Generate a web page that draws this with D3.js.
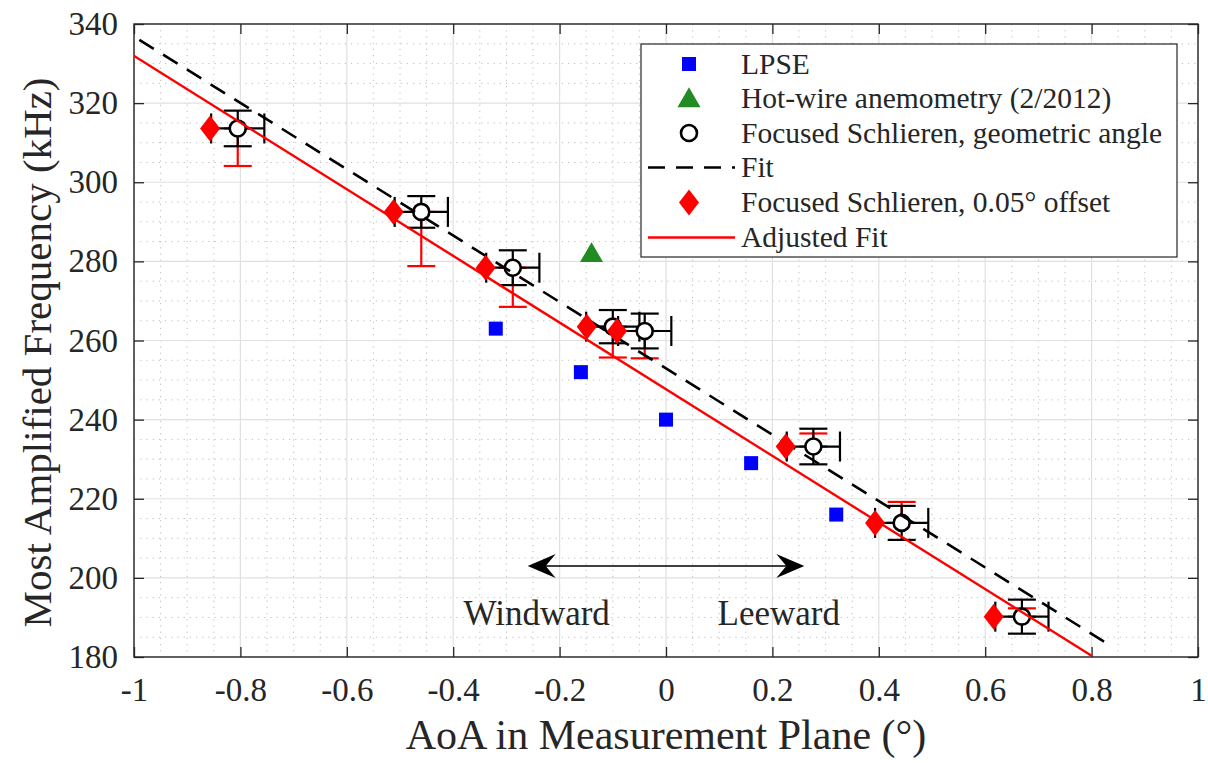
<!DOCTYPE html>
<html>
<head>
<meta charset="utf-8">
<script src="https://cdn.jsdelivr.net/npm/d3@7"></script>
<style>
  html, body { margin: 0; padding: 0; background: #ffffff; }
  svg { display: block; }
  text { font-family: "Liberation Serif", "DejaVu Serif", serif; fill: #262626; }
</style>
</head>
<body>
<svg id="chart" width="1208" height="763"></svg>
<script>
// ---- data ----
const xTickValues = [-1, -0.8, -0.6, -0.4, -0.2, 0, 0.2, 0.4, 0.6, 0.8, 1];
const xTickLabels = ["-1", "-0.8", "-0.6", "-0.4", "-0.2", "0", "0.2", "0.4", "0.6", "0.8", "1"];
const yTickValues = [180, 200, 220, 240, 260, 280, 300, 320, 340];
const yTickLabels = ["180", "200", "220", "240", "260", "280", "300", "320", "340"];

// LPSE predictions
const lpseAoA  = [-0.32, -0.16, 0, 0.16, 0.32];
const lpseFreq = [263, 252, 240, 229, 216];

// Hot-wire anemometry (2/2012)
const hotwireAoA  = [-0.14];
const hotwireFreq = [282];

// Focused schlieren, geometric angle
const schlierenAoA     = [-0.805, -0.46, -0.288, -0.10, -0.04, 0.277, 0.443, 0.669];
const schlierenFreq    = [313.6, 292.5, 278.4, 263.5, 262.4, 233.2, 213.9, 190.2];
const schlierenFreqErr = [4.5, 4.0, 4.4, 4.2, 4.4, 4.5, 4.3, 4.3];
const schlierenAoAErr  = [0.05, 0.05, 0.05, 0.05, 0.05, 0.05, 0.05, 0.05];

// Focused schlieren, 0.05 deg offset
const offsetAoA     = [-0.857, -0.512, -0.339, -0.149, -0.092, 0.225, 0.393, 0.616];
const offsetFreq    = [313.6, 292.5, 278.4, 263.5, 262.4, 233.2, 213.9, 190.2];
const offsetFreqLow  = [304.1, 278.8, 268.5, 255.7, 255.5, 233.2, 213.9, 190.2];
const offsetFreqHigh = [313.6, 292.5, 278.4, 263.5, 262.4, 236.5, 219.2, 192.3];

// Linear fits (end points)
const fitAoA  = [-0.99, 0.84];
const fitFreq = [336.0, 182.5];
const adjFitAoA  = [-1.04, 0.80];
const adjFitFreq = [335.3, 180.3];

// Windward / leeward annotation
const arrowAoA = [-0.26, 0.26];
const arrowFreq = 203;
const sideLabels = ["Windward", "Leeward"];
const sideLabelAoA = [-0.243, 0.212];
const sideLabelFreq = 188.2;

const legendLabels = [
  "LPSE",
  "Hot-wire anemometry (2/2012)",
  "Focused Schlieren, geometric angle",
  "Fit",
  "Focused Schlieren, 0.05\u00b0 offset",
  "Adjusted Fit"
];

// ---- layout ----
const svg = d3.select("#chart");
const plot = { left: 134, right: 1198, top: 24, bottom: 657 };
const x = d3.scaleLinear().domain([-1, 1]).range([plot.left, plot.right]);
const y = d3.scaleLinear().domain([180, 340]).range([plot.bottom, plot.top]);

const INK = "#262626";
const BLUE = "#0000ff", GREEN = "#228b22", RED = "#ff0000";

svg.append("defs").append("clipPath").attr("id", "plotClip")
  .append("rect")
  .attr("x", plot.left).attr("y", plot.top)
  .attr("width", plot.right - plot.left).attr("height", plot.bottom - plot.top);

// ---- grid ----
const grid = svg.append("g");
const xMinor = d3.range(-1, 1.0001, 0.05).map(v => +v.toFixed(2)).filter(v => !xTickValues.some(t => Math.abs(t - v) < 1e-6));
const yMinor = d3.range(180, 340.001, 5).filter(v => !yTickValues.includes(v));

grid.selectAll("line.xminor").data(xMinor).join("line")
  .attr("x1", d => x(d)).attr("x2", d => x(d))
  .attr("y1", plot.top).attr("y2", plot.bottom)
  .attr("stroke", "#bdbdbd").attr("stroke-width", 1).attr("stroke-dasharray", "1.2,5");
grid.selectAll("line.yminor").data(yMinor).join("line")
  .attr("y1", d => y(d)).attr("y2", d => y(d))
  .attr("x1", plot.left).attr("x2", plot.right)
  .attr("stroke", "#bdbdbd").attr("stroke-width", 1).attr("stroke-dasharray", "1.2,5");
grid.selectAll("line.xmajor").data(xTickValues).join("line")
  .attr("x1", d => x(d)).attr("x2", d => x(d))
  .attr("y1", plot.top).attr("y2", plot.bottom)
  .attr("stroke", "#e0e0e0").attr("stroke-width", 1.2);
grid.selectAll("line.ymajor").data(yTickValues).join("line")
  .attr("y1", d => y(d)).attr("y2", d => y(d))
  .attr("x1", plot.left).attr("x2", plot.right)
  .attr("stroke", "#e0e0e0").attr("stroke-width", 1.2);

// ---- axes ----
function styleAxis(g) {
  g.select(".domain").remove();
  g.selectAll(".tick line").attr("stroke", INK).attr("stroke-width", 1.3);
  g.selectAll(".tick text").attr("fill", INK)
    .style("font-family", "'Liberation Serif', serif").style("font-size", "33px");
}
svg.append("g").attr("transform", `translate(0,${plot.bottom})`)
  .call(d3.axisBottom(x).tickValues(xTickValues).tickSize(-10).tickPadding(21)
    .tickFormat((d, i) => xTickLabels[i]))
  .call(styleAxis);
svg.append("g").attr("transform", `translate(0,${plot.top})`)
  .call(d3.axisTop(x).tickValues(xTickValues).tickSize(-10).tickFormat(""))
  .call(styleAxis);
svg.append("g").attr("transform", `translate(${plot.left},0)`)
  .call(d3.axisLeft(y).tickValues(yTickValues).tickSize(-10).tickPadding(16)
    .tickFormat((d, i) => yTickLabels[i]))
  .call(styleAxis);
svg.append("g").attr("transform", `translate(${plot.right},0)`)
  .call(d3.axisRight(y).tickValues(yTickValues).tickSize(-10).tickFormat(""))
  .call(styleAxis);

svg.append("rect")
  .attr("x", plot.left).attr("y", plot.top)
  .attr("width", plot.right - plot.left).attr("height", plot.bottom - plot.top)
  .attr("fill", "none").attr("stroke", INK).attr("stroke-width", 1.4);

// axis titles
svg.append("text")
  .attr("x", (plot.left + plot.right) / 2).attr("y", 749)
  .attr("text-anchor", "middle").style("font-size", "42px")
  .text("AoA in Measurement Plane (\u00b0)");
svg.append("text")
  .attr("transform", `translate(51,${(plot.top + plot.bottom) / 2 + 12}) rotate(-90)`)
  .attr("text-anchor", "middle").style("font-size", "41px")
  .text("Most Amplified Frequency (kHz)");

// ---- data marks ----
const marks = svg.append("g").attr("clip-path", "url(#plotClip)");
const CAP = 14;

// red error bars (offset data), drawn beneath everything else
const redEB = marks.append("g").attr("stroke", RED).attr("stroke-width", 2.2).attr("fill", "none");
schlierenAoA.forEach((a, i) => {
  const px = x(a), lo = y(offsetFreqLow[i]), hi = y(offsetFreqHigh[i]);
  redEB.append("line").attr("x1", px).attr("x2", px).attr("y1", lo).attr("y2", hi);
  redEB.append("line").attr("x1", px - CAP).attr("x2", px + CAP).attr("y1", lo).attr("y2", lo);
  redEB.append("line").attr("x1", px - CAP).attr("x2", px + CAP).attr("y1", hi).attr("y2", hi);
});

// LPSE squares
marks.selectAll("rect.lpse").data(lpseAoA).join("rect")
  .attr("x", d => x(d) - 7).attr("y", (d, i) => y(lpseFreq[i]) - 7)
  .attr("width", 14).attr("height", 14).attr("fill", BLUE);

// hot-wire triangle
const tri = d3.symbol().type(d3.symbolTriangle).size(230);
marks.selectAll("path.hw").data(hotwireAoA).join("path")
  .attr("d", tri)
  .attr("transform", (d, i) => `translate(${x(d)},${y(hotwireFreq[i]) + 2})`)
  .attr("fill", GREEN);

// black error bars + circles
const blackEB = marks.append("g").attr("stroke", "#000").attr("stroke-width", 2.2).attr("fill", "none");
schlierenAoA.forEach((a, i) => {
  const px = x(a), py = y(schlierenFreq[i]);
  const lo = y(schlierenFreq[i] - schlierenFreqErr[i]), hi = y(schlierenFreq[i] + schlierenFreqErr[i]);
  const l = x(a - schlierenAoAErr[i]), r = x(a + schlierenAoAErr[i]);
  blackEB.append("line").attr("x1", px).attr("x2", px).attr("y1", lo).attr("y2", hi);
  blackEB.append("line").attr("x1", px - CAP).attr("x2", px + CAP).attr("y1", lo).attr("y2", lo);
  blackEB.append("line").attr("x1", px - CAP).attr("x2", px + CAP).attr("y1", hi).attr("y2", hi);
  blackEB.append("line").attr("x1", l).attr("x2", r).attr("y1", py).attr("y2", py);
  blackEB.append("line").attr("x1", l).attr("x2", l).attr("y1", py - 15).attr("y2", py + 15);
  blackEB.append("line").attr("x1", r).attr("x2", r).attr("y1", py - 15).attr("y2", py + 15);
  blackEB.append("circle").attr("cx", px).attr("cy", py).attr("r", 8)
    .attr("fill", "#fff").attr("stroke-width", 2.6);
});

// fit (dashed)
const line = d3.line().x(d => x(d[0])).y(d => y(d[1]));
marks.append("path")
  .attr("d", line(fitAoA.map((a, i) => [a, fitFreq[i]])))
  .attr("fill", "none").attr("stroke", "#000").attr("stroke-width", 2.6)
  .attr("stroke-dasharray", "17,11");

// offset diamonds
const diamond = (cx, cy) => `M${cx},${cy - 13}L${cx + 10},${cy}L${cx},${cy + 13}L${cx - 10},${cy}Z`;
marks.selectAll("path.dia").data(offsetAoA).join("path")
  .attr("d", (d, i) => diamond(x(d), y(offsetFreq[i])))
  .attr("fill", RED);

// adjusted fit
marks.append("path")
  .attr("d", line(adjFitAoA.map((a, i) => [a, adjFitFreq[i]])))
  .attr("fill", "none").attr("stroke", RED).attr("stroke-width", 2.4);

// ---- windward / leeward annotation ----
const ay = y(arrowFreq), ax0 = x(arrowAoA[0]), ax1 = x(arrowAoA[1]);
svg.append("line").attr("x1", ax0 + 10).attr("x2", ax1 - 10).attr("y1", ay).attr("y2", ay)
  .attr("stroke", "#000").attr("stroke-width", 1.6);
const head = (tx, dir) => `M${tx},${ay}L${tx - dir * 28},${ay - 12}L${tx - dir * 18},${ay}L${tx - dir * 28},${ay + 12}Z`;
svg.append("path").attr("d", head(ax1, 1)).attr("fill", "#000");
svg.append("path").attr("d", head(ax0, -1)).attr("fill", "#000");
svg.selectAll("text.side").data(sideLabels).join("text")
  .attr("x", (d, i) => x(sideLabelAoA[i])).attr("y", y(sideLabelFreq))
  .attr("text-anchor", "middle").style("font-size", "35px").attr("fill", "#000")
  .text(d => d);

// ---- legend ----
const lg = svg.append("g");
lg.append("rect").attr("x", 641).attr("y", 44).attr("width", 536).attr("height", 213)
  .attr("fill", "#fff").attr("stroke", INK).attr("stroke-width", 1.2);
const rowY = [64, 98.5, 133, 167.5, 202.5, 237.5];
const mx = 689;
lg.append("rect").attr("x", mx - 7).attr("y", rowY[0] - 7).attr("width", 14).attr("height", 14).attr("fill", BLUE);
lg.append("path").attr("d", tri).attr("transform", `translate(${mx},${rowY[1] + 2})`).attr("fill", GREEN);
lg.append("circle").attr("cx", mx).attr("cy", rowY[2]).attr("r", 8).attr("fill", "#fff")
  .attr("stroke", "#000").attr("stroke-width", 2.6);
lg.append("line").attr("x1", 648).attr("x2", 735).attr("y1", rowY[3]).attr("y2", rowY[3])
  .attr("stroke", "#000").attr("stroke-width", 2.6).attr("stroke-dasharray", "17,11");
lg.append("path").attr("d", diamond(mx, rowY[4])).attr("fill", RED);
lg.append("line").attr("x1", 648).attr("x2", 735).attr("y1", rowY[5]).attr("y2", rowY[5])
  .attr("stroke", RED).attr("stroke-width", 2.4);
lg.selectAll("text.lab").data(legendLabels).join("text")
  .attr("x", 741).attr("y", (d, i) => rowY[i]).attr("dy", "0.33em")
  .style("font-size", "29.5px").attr("fill", "#000")
  .text(d => d);
</script>
</body>
</html>
